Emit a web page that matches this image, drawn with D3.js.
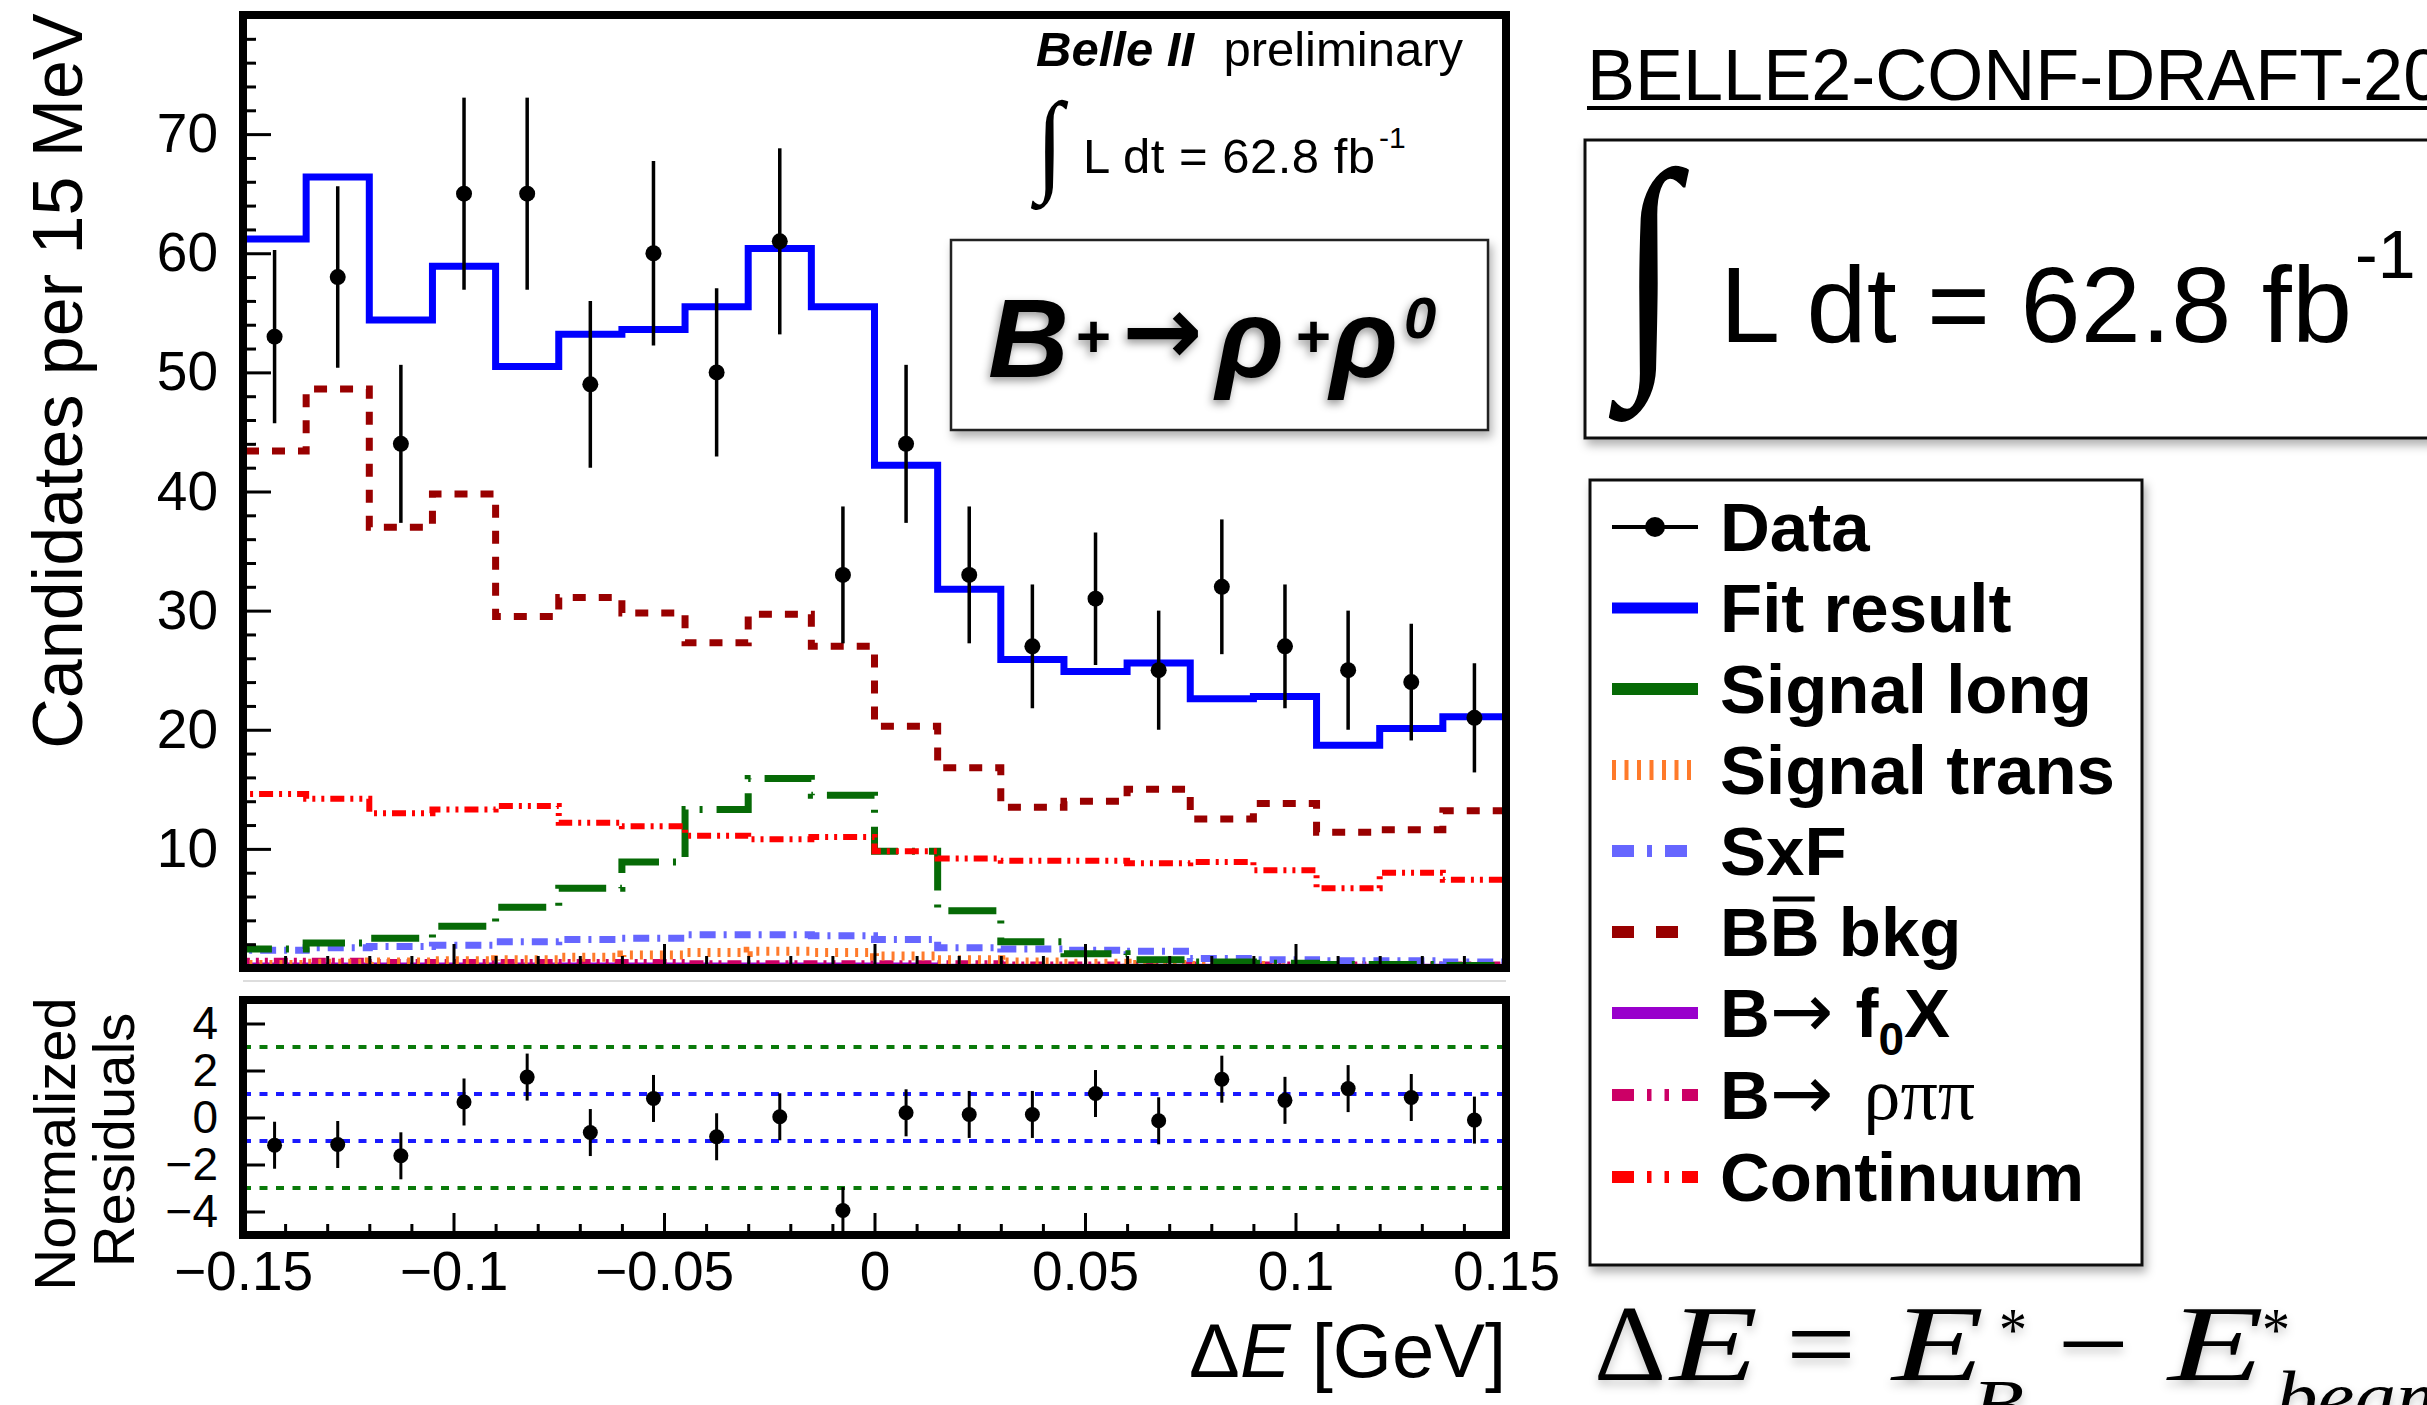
<!DOCTYPE html>
<html>
<head>
<meta charset="utf-8">
<script src="https://cdn.jsdelivr.net/npm/d3@7"></script>
<style>
  html, body { margin: 0; padding: 0; background: #fff; }
  svg { display: block; }
</style>
</head>
<body>
<svg id="chart" width="2427" height="1405" font-family="Liberation Sans, Arial, Helvetica, sans-serif"></svg>
<script>
// ---- Delta E fit, 20 bins of 15 MeV between -0.15 and 0.15 GeV ----
const binEdges = d3.range(21).map(i => -0.15 + i * 0.015);
const binCenters = binEdges.slice(0, 20).map(e => e + 0.0075);

// observed candidates per bin
const dataCounts = [53, 58, 44, 65, 65, 49, 60, 50, 61, 33, 44, 33, 27, 31, 25, 32, 27, 25, 24, 21];

// fit result and its components (candidates per bin)
const fitTotal   = [61.2, 66.4, 54.4, 58.9, 50.5, 53.2, 53.6, 55.5, 60.4, 55.5, 42.2, 31.8, 25.9, 24.9, 25.6, 22.6, 22.8, 18.7, 20.1, 21.1];
const bbBkg      = [43.4, 48.6, 37.0, 39.8, 29.5, 31.1, 29.8, 27.3, 29.7, 27.0, 20.3, 16.8, 13.5, 14.0, 15.0, 12.5, 13.8, 11.4, 11.6, 13.2];
const continuum  = [14.6, 14.2, 13.0, 13.3, 13.6, 12.2, 11.9, 11.1, 10.8, 11.0, 9.8, 9.2, 9.0, 9.0, 8.8, 8.9, 8.2, 6.7, 8.0, 7.4];
const signalLong = [1.6, 2.1, 2.5, 3.5, 5.1, 6.7, 8.9, 13.3, 15.9, 14.5, 9.8, 4.8, 2.2, 1.2, 0.7, 0.5, 0.4, 0.3, 0.3, 0.2];
const signalTrans= [0.3, 0.4, 0.5, 0.6, 0.7, 0.9, 1.1, 1.3, 1.4, 1.3, 1.0, 0.7, 0.5, 0.4, 0.3, 0.2, 0.2, 0.2, 0.1, 0.1];
const selfCross  = [1.5, 1.7, 1.8, 1.9, 2.2, 2.4, 2.5, 2.8, 2.8, 2.7, 2.4, 1.7, 1.6, 1.5, 1.4, 0.8, 0.7, 0.6, 0.6, 0.5];
const rhoPiPi    = [0.6, 0.6, 0.5, 0.5, 0.5, 0.5, 0.5, 0.4, 0.4, 0.4, 0.4, 0.4, 0.3, 0.3, 0.3, 0.3, 0.3, 0.3, 0.3, 0.3];
const f0X        = [0.2, 0.2, 0.2, 0.2, 0.2, 0.2, 0.2, 0.2, 0.2, 0.2, 0.2, 0.1, 0.1, 0.1, 0.1, 0.1, 0.1, 0.1, 0.1, 0.1];

// normalized residuals (data - fit) / sigma
const residuals = [-1.18, -1.15, -1.63, 0.66, 1.72, -0.64, 0.81, -0.82, 0.03, -3.96, 0.20, 0.13, 0.13, 1.02, -0.14, 1.63, 0.73, 1.23, 0.85, -0.11];

// tick values
const yMajorTicks = [10, 20, 30, 40, 50, 60, 70];
const yMinorTicks = d3.range(2, 80, 2).filter(v => v % 10 !== 0);
const xMajorTicks = [-0.15, -0.1, -0.05, 0, 0.05, 0.1, 0.15];
const xMinorTicks = d3.range(-14, 15).map(i => i / 100).filter(v => Math.round(v * 100) % 5 !== 0);
const resTicks = [-4, -2, 0, 2, 4];
const resBands = [{v: 3, c: "#0a7a0a"}, {v: -3, c: "#0a7a0a"}, {v: 1, c: "#1a1aff"}, {v: -1, c: "#1a1aff"}];

// legend entries
const legendLabels = ["Data", "Fit result", "Signal long", "Signal trans", "SxF", "BB bkg", "B→ f0X", "B→ ρππ", "Continuum"];

const SANS = "Liberation Sans, Arial, Helvetica, sans-serif";
const SERIF = "Liberation Serif, Times New Roman, serif";

const svg = d3.select("#chart");

// ---- filters ----
const defs = svg.append("defs");
const sh = defs.append("filter").attr("id", "boxShadow").attr("x", "-5%").attr("y", "-5%").attr("width", "115%").attr("height", "120%");
sh.append("feDropShadow").attr("dx", 3).attr("dy", 6).attr("stdDeviation", 5).attr("flood-color", "#000").attr("flood-opacity", 0.3);
const ts = defs.append("filter").attr("id", "textShadow").attr("x", "-10%").attr("y", "-20%").attr("width", "130%").attr("height", "150%");
ts.append("feDropShadow").attr("dx", -2).attr("dy", 4).attr("stdDeviation", 4).attr("flood-color", "#000").attr("flood-opacity", 0.4);
const ls = defs.append("filter").attr("id", "lightShadow").attr("x", "-10%").attr("y", "-20%").attr("width", "130%").attr("height", "150%");
ls.append("feDropShadow").attr("dx", 0).attr("dy", 5).attr("stdDeviation", 5).attr("flood-color", "#000").attr("flood-opacity", 0.22);

// ---- scales ----
const x = d3.scaleLinear().domain([-0.15, 0.15]).range([243, 1506]);
const y = d3.scaleLinear().domain([0, 80]).range([968, 15]);
const yr = d3.scaleLinear().domain([-5, 5]).range([1235, 1000]);

defs.append("clipPath").attr("id", "mainClip")
  .append("rect").attr("x", x(-0.15)).attr("y", y(80)).attr("width", x(0.15) - x(-0.15)).attr("height", y(0) - y(80));

// ---- main pad ----
const main = svg.append("g");

// step curves of fit components
function stepPoints(vals) {
  const pts = [[binEdges[0], 0]];
  vals.forEach((v, i) => { pts.push([binEdges[i], v]); pts.push([binEdges[i + 1], v]); });
  pts.push([binEdges[20], 0]);
  return pts;
}
const stepLine = d3.line().x(d => x(d[0])).y(d => y(d[1]));

const curves = [
  {vals: f0X,         color: "#9900cc", width: 6, dash: null},
  {vals: rhoPiPi,     color: "#cc0066", width: 6, dash: "14,6,3,6,3,6"},
  {vals: signalTrans, color: "#ff7a2a", width: 9, dash: "3,7"},
  {vals: selfCross,   color: "#6666ff", width: 7, dash: "16,8,3,8"},
  {vals: signalLong,  color: "#066a06", width: 7, dash: "48,14,3,14"},
  {vals: continuum,   color: "#ff0000", width: 6, dash: "14,6,3,6,3,6"},
  {vals: bbBkg,       color: "#990000", width: 7, dash: "13,13"},
  {vals: fitTotal,    color: "#0000ff", width: 7, dash: null}
];
const curveG = main.append("g").attr("clip-path", "url(#mainClip)");
curveG.selectAll("path.curve").data(curves).join("path")
  .attr("class", "curve")
  .attr("d", d => stepLine(stepPoints(d.vals)))
  .attr("fill", "none")
  .attr("stroke", d => d.color)
  .attr("stroke-width", d => d.width)
  .attr("stroke-dasharray", d => d.dash)
  .attr("stroke-linejoin", "miter");

// data points with Poisson errors
const pts = main.append("g").attr("clip-path", "url(#mainClip)");
pts.selectAll("line.err").data(dataCounts).join("line")
  .attr("class", "err")
  .attr("x1", (d, i) => x(binCenters[i])).attr("x2", (d, i) => x(binCenters[i]))
  .attr("y1", d => y(d - Math.sqrt(d))).attr("y2", d => y(d + Math.sqrt(d)))
  .attr("stroke", "#000").attr("stroke-width", 3.5);
pts.selectAll("circle").data(dataCounts).join("circle")
  .attr("cx", (d, i) => x(binCenters[i])).attr("cy", d => y(d))
  .attr("r", 8).attr("fill", "#000");

// axes of main pad (ticks point inwards)
function cleanAxis(g) { g.select(".domain").remove(); g.selectAll(".tick line").attr("stroke", "#000").attr("stroke-width", 3); }
main.append("g").attr("transform", `translate(${x(-0.15)},0)`)
  .call(d3.axisLeft(y).tickValues(yMinorTicks).tickSize(-13).tickFormat(""))
  .call(cleanAxis);
main.append("g").attr("transform", `translate(${x(-0.15)},0)`)
  .call(d3.axisLeft(y).tickValues(yMajorTicks).tickSize(-28).tickPadding(25).tickFormat(d3.format("d")))
  .call(cleanAxis)
  .call(g => g.selectAll("text").attr("font-size", 55).attr("fill", "#000").attr("font-family", SANS));
main.append("g").attr("transform", `translate(0,${y(0)})`)
  .call(d3.axisBottom(x).tickValues(xMinorTicks).tickSize(-12).tickFormat(""))
  .call(cleanAxis);
main.append("g").attr("transform", `translate(0,${y(0)})`)
  .call(d3.axisBottom(x).tickValues(xMajorTicks.slice(1, -1)).tickSize(-24).tickFormat(""))
  .call(cleanAxis);

main.append("rect")
  .attr("x", x(-0.15)).attr("y", y(80)).attr("width", x(0.15) - x(-0.15)).attr("height", y(0) - y(80))
  .attr("fill", "none").attr("stroke", "#000").attr("stroke-width", 8);

// y title
main.append("text")
  .attr("transform", `translate(82,381) rotate(-90)`)
  .attr("text-anchor", "middle").attr("font-size", 70).attr("fill", "#000")
  .text("Candidates per 15 MeV");

// experiment label
main.append("text").attr("x", 1194).attr("y", 66).attr("text-anchor", "end")
  .attr("font-size", 49).attr("font-weight", "bold").attr("font-style", "italic").text("Belle II");
main.append("text").attr("x", 1463).attr("y", 66).attr("text-anchor", "end")
  .attr("font-size", 49).text("preliminary");

// integrated luminosity inside the plot
main.append("text").attr("transform", "translate(1036,180) scale(0.95,1.08)")
  .attr("font-family", SERIF).attr("font-size", 104).text("∫");
main.append("text").attr("x", 1083).attr("y", 173).attr("font-size", 49).attr("textLength", 292).text("L dt = 62.8 fb");
main.append("text").attr("x", 1379).attr("y", 148).attr("font-size", 30).text("-1");

// decay label box
main.append("rect").attr("x", 951).attr("y", 240).attr("width", 537).attr("height", 190)
  .attr("fill", "#fff").attr("stroke", "#222").attr("stroke-width", 2.5).attr("filter", "url(#boxShadow)");
const decay = main.append("g").attr("filter", "url(#textShadow)");
decay.append("text").attr("x", 988).attr("y", 377).attr("font-size", 112).attr("font-weight", "bold").attr("font-style", "italic").text("B");
decay.append("text").attr("x", 1076).attr("y", 357).attr("font-size", 60).attr("font-weight", "bold").text("+");
decay.append("text").attr("x", 1122).attr("y", 364).attr("font-size", 96).attr("font-weight", "bold").attr("font-family", "DejaVu Sans, sans-serif").text("→");
decay.append("text").attr("x", 1216).attr("y", 377).attr("font-size", 112).attr("font-weight", "bold").attr("font-style", "italic").text("ρ");
decay.append("text").attr("x", 1296).attr("y", 357).attr("font-size", 60).attr("font-weight", "bold").text("+");
decay.append("text").attr("x", 1330).attr("y", 377).attr("font-size", 112).attr("font-weight", "bold").attr("font-style", "italic").text("ρ");
decay.append("text").attr("x", 1404).attr("y", 338).attr("font-size", 58).attr("font-weight", "bold").attr("font-style", "italic").text("0");

// faint pad separator
svg.append("line").attr("x1", 243).attr("x2", 1506).attr("y1", 981).attr("y2", 981).attr("stroke", "#ddd").attr("stroke-width", 2);

// ---- residual pad ----
const res = svg.append("g");
res.selectAll("line.band").data(resBands).join("line")
  .attr("class", "band")
  .attr("x1", x(-0.15)).attr("x2", x(0.15))
  .attr("y1", d => yr(d.v)).attr("y2", d => yr(d.v))
  .attr("stroke", d => d.c).attr("stroke-width", 4).attr("stroke-dasharray", "8,8.5");

res.selectAll("line.rerr").data(residuals).join("line")
  .attr("class", "rerr")
  .attr("x1", (d, i) => x(binCenters[i])).attr("x2", (d, i) => x(binCenters[i]))
  .attr("y1", d => yr(d - 1)).attr("y2", d => yr(d + 1))
  .attr("stroke", "#000").attr("stroke-width", 3);
res.selectAll("circle").data(residuals).join("circle")
  .attr("cx", (d, i) => x(binCenters[i])).attr("cy", d => yr(d))
  .attr("r", 7.5).attr("fill", "#000");

const fmtX = v => v === 0 ? "0" : (v < 0 ? "\u2212" : "") + d3.format("")(+Math.abs(v).toFixed(2));
res.append("g").attr("transform", `translate(0,${yr(-5)})`)
  .call(d3.axisBottom(x).tickValues(xMinorTicks).tickSize(-11).tickFormat(""))
  .call(cleanAxis);
res.append("g").attr("transform", `translate(0,${yr(-5)})`)
  .call(d3.axisBottom(x).tickValues(xMajorTicks).tickSize(-22).tickFormat(fmtX))
  .call(cleanAxis)
  .call(g => g.selectAll("text").attr("font-size", 55).attr("fill", "#000").attr("y", 55).attr("dy", 0)
    .attr("font-family", SANS));
res.append("g").attr("transform", `translate(${x(-0.15)},0)`)
  .call(d3.axisLeft(yr).tickValues(resTicks).tickSize(-22).tickPadding(25)
    .tickFormat(v => (v < 0 ? "\u2212" : "") + Math.abs(v)))
  .call(cleanAxis)
  .call(g => g.selectAll("text").attr("font-size", 46).attr("fill", "#000").attr("font-family", SANS));

res.append("rect")
  .attr("x", x(-0.15)).attr("y", yr(5)).attr("width", x(0.15) - x(-0.15)).attr("height", yr(-5) - yr(5))
  .attr("fill", "none").attr("stroke", "#000").attr("stroke-width", 8);

res.append("text").attr("transform", "translate(75,1144) rotate(-90)")
  .attr("text-anchor", "middle").attr("font-size", 58).text("Normalized");
res.append("text").attr("transform", "translate(134,1140) rotate(-90)")
  .attr("text-anchor", "middle").attr("font-size", 58).text("Residuals");

const xTitle = res.append("text").attr("x", 1506).attr("y", 1377).attr("text-anchor", "end").attr("font-size", 76);
xTitle.append("tspan").text("Δ");
xTitle.append("tspan").attr("font-style", "italic").text("E");
xTitle.append("tspan").text(" [GeV]");

// ---- right-hand annotations ----
const side = svg.append("g");
side.append("text").attr("x", 1587).attr("y", 100).attr("font-size", 72).text("BELLE2-CONF-DRAFT-2020");
side.append("line").attr("x1", 1587).attr("x2", 2440).attr("y1", 108).attr("y2", 108).attr("stroke", "#000").attr("stroke-width", 4);

side.append("rect").attr("x", 1585).attr("y", 140).attr("width", 900).attr("height", 298)
  .attr("fill", "#fff").attr("stroke", "#111").attr("stroke-width", 3).attr("filter", "url(#boxShadow)");
side.append("text").attr("transform", "translate(1620,352) scale(0.93,1.145)")
  .attr("font-family", SERIF).attr("font-size", 228).text("∫");
side.append("text").attr("x", 1720).attr("y", 342).attr("font-size", 108).attr("textLength", 632).text("L dt = 62.8 fb");
side.append("text").attr("x", 2355).attr("y", 278).attr("font-size", 68).text("-1");

// legend
const legX = 1590, legY = 480, legW = 552, legH = 785;
const legend = side.append("g");
legend.append("rect").attr("x", legX).attr("y", legY).attr("width", legW).attr("height", legH)
  .attr("fill", "#fff").attr("stroke", "#111").attr("stroke-width", 3).attr("filter", "url(#boxShadow)");
const rowY = [527, 608, 689, 770, 851, 932, 1013, 1095, 1177];
const sampleStyles = [
  {color: "#000", width: 4, dash: null},
  {color: "#0000ff", width: 11, dash: null},
  {color: "#066a06", width: 12, dash: null},
  {color: "#ff7a2a", width: 20, dash: "4,8.5"},
  {color: "#6666ff", width: 12, dash: "22,13,5,13"},
  {color: "#990000", width: 12, dash: "22,22"},
  {color: "#9900cc", width: 12, dash: null},
  {color: "#cc0066", width: 12, dash: "22,13,4.5,13,4.5,13"},
  {color: "#ff0000", width: 12, dash: "22,13,4.5,13,4.5,13"}
];
legend.selectAll("line.sample").data(sampleStyles).join("line")
  .attr("class", "sample")
  .attr("x1", 1612).attr("x2", (d, i) => i === 5 ? 1680 : 1698)
  .attr("y1", (d, i) => rowY[i]).attr("y2", (d, i) => rowY[i])
  .attr("stroke", d => d.color).attr("stroke-width", d => d.width).attr("stroke-dasharray", d => d.dash);
legend.append("circle").attr("cx", 1655).attr("cy", rowY[0]).attr("r", 10).attr("fill", "#000");

const lt = legend.selectAll("text.lab").data(legendLabels).join("text")
  .attr("class", "lab")
  .attr("x", 1720).attr("y", (d, i) => rowY[i] + 24)
  .attr("font-size", 69).attr("font-weight", "bold");
lt.each(function(d, i) {
  const t = d3.select(this);
  if (i === 6) {
    t.append("tspan").text("B");
    t.append("tspan").attr("font-weight", "normal").attr("font-family", "DejaVu Sans, sans-serif").attr("font-size", 76).text("→");
    t.append("tspan").attr("dx", 22).text("f");
    t.append("tspan").attr("font-size", 46).attr("dy", 18).text("0");
    t.append("tspan").attr("dy", -18).text("X");
  } else if (i === 7) {
    t.append("tspan").text("B");
    t.append("tspan").attr("font-weight", "normal").attr("font-family", "DejaVu Sans, sans-serif").attr("font-size", 76).text("→");
    t.append("tspan").attr("dx", 30).attr("font-weight", "normal").attr("font-family", SERIF).attr("font-size", 74).text("ρππ");
  } else {
    t.text(d);
  }
});
// bar over the second B of "BB bkg"
{
  const node = lt.filter((d, i) => i === 5).node();
  const p = node.getStartPositionOfChar(1);
  const w = node.getSubStringLength(1, 1);
  legend.append("line").attr("x1", p.x + 3).attr("x2", p.x + w - 5)
    .attr("y1", rowY[5] - 33).attr("y2", rowY[5] - 33)
    .attr("stroke", "#000").attr("stroke-width", 5);
}

// Delta E definition (glyphs widened slightly to their advance with textLength)
const eq = side.append("g").attr("filter", "url(#lightShadow)").attr("font-family", SERIF);
const eqParts = [
  {t: "Δ",    x: 1594, y: 1380, fs: 108, it: false, w: 72},
  {t: "E",    x: 1670, y: 1380, fs: 108, it: true,  w: 88},
  {t: "=",    x: 1786, y: 1380, fs: 108, it: false, w: 70},
  {t: "E",    x: 1892, y: 1380, fs: 108, it: true,  w: 92},
  {t: "*",    x: 1999, y: 1350, fs: 62,  it: false, w: 28},
  {t: "B",    x: 1972, y: 1428, fs: 70,  it: true,  w: 52},
  {t: "−",    x: 2057, y: 1380, fs: 108, it: false, w: 72},
  {t: "E",    x: 2168, y: 1380, fs: 108, it: true,  w: 96},
  {t: "*",    x: 2262, y: 1350, fs: 62,  it: false, w: 28},
  {t: "beam", x: 2276, y: 1421, fs: 72,  it: true,  w: 180}
];
eq.selectAll("text").data(eqParts).join("text")
  .attr("x", d => d.x).attr("y", d => d.y)
  .attr("font-size", d => d.fs)
  .attr("font-style", d => d.it ? "italic" : "normal")
  .attr("textLength", d => d.w).attr("lengthAdjust", "spacingAndGlyphs")
  .text(d => d.t);
</script>
</body>
</html>
